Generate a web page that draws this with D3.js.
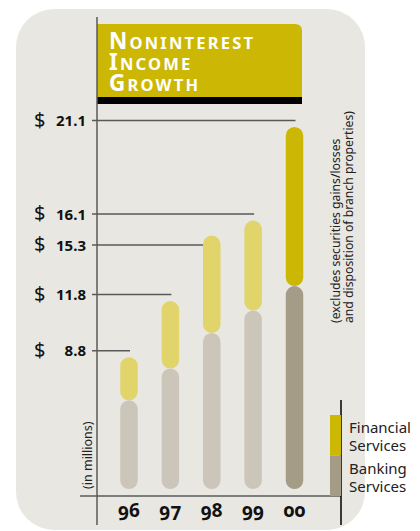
<!DOCTYPE html>
<html>
<head>
<meta charset="utf-8">
<script src="https://cdn.jsdelivr.net/npm/d3@7"></script>
<style>
  html, body { margin: 0; padding: 0; background: #ffffff; }
  svg { display: block; }
</style>
</head>
<body>
<svg id="chart" width="420" height="531"></svg>
<script>
// Noninterest income, $ millions, split by line of business
const years = ["96", "97", "98", "99", "00"];
const bankingServices = [6.5, 8.2, 10.1, 11.3, 12.6];
const financialServices = [2.3, 3.6, 5.2, 4.8, 8.5];
const totals = [8.8, 11.8, 15.3, 16.1, 21.1];
const tickLabels = ["8.8", "11.8", "15.3", "16.1", "21.1"];
const titleLines = ["Noninterest", "Income", "Growth"];
const noteLines = ["(excludes securities gains/losses", "and disposition of branch properties)"];
const legendItems = [
  { key: "financial", lines: ["Financial", "Services"] },
  { key: "banking", lines: ["Banking", "Services"] }
];
const currentYear = "00";

const svg = d3.select("#chart");
const sans = "'Noto Sans', 'Open Sans', sans-serif";

const colors = {
  panel: "#e8e7e2",
  title: "#ccb804",
  finLight: "#e0d46a",
  finDark: "#ccb804",
  bankLight: "#ccc6ba",
  bankDark: "#a59c88",
  axis: "#5a5a5a",
  ink: "#111111"
};

// background panel
svg.append("rect")
  .attr("x", 16).attr("y", 9)
  .attr("width", 349).attr("height", 521)
  .attr("rx", 38).attr("ry", 38)
  .attr("fill", colors.panel);

const axisX = 97;
const axisY = 496;
const floorY = axisY - 7;
const barWidth = 17.5;

const x = d3.scalePoint().domain(years).range([129, 294.5]);
const y = d3.scaleLinear().domain([0, 21.1]).range([522, 127]);

const rows = years.map((yr, i) => ({
  year: yr,
  banking: bankingServices[i],
  financial: financialServices[i],
  total: totals[i],
  label: tickLabels[i]
}));

// leader lines sit just above each bar top; labels that would collide
// are nudged downward so they keep a minimum spacing
const gap = 6.5;
const minSpacing = 31;
const byTop = rows.slice().sort((a, b) => b.total - a.total);
let prev = -Infinity;
byTop.forEach(d => {
  d.ly = Math.max(y(d.total) - gap, prev + minSpacing);
  prev = d.ly;
});

// title block
const titleX = axisX, titleW = 205, titleTop = 24, titleH = 73;
svg.append("path")
  .attr("d", () => {
    const r = 7;
    return `M${titleX},${titleTop} H${titleX + titleW - r} Q${titleX + titleW},${titleTop} ${titleX + titleW},${titleTop + r} V${titleTop + titleH} H${titleX} Z`;
  })
  .attr("fill", colors.title);
svg.append("rect")
  .attr("x", titleX).attr("y", titleTop + titleH)
  .attr("width", titleW).attr("height", 7)
  .attr("fill", "#000");

const titleText = svg.append("g")
  .attr("font-family", sans)
  .attr("font-weight", 700)
  .attr("fill", "#ffffff")
  .attr("letter-spacing", 2.2);
titleLines.forEach((line, i) => {
  const t = titleText.append("text")
    .attr("x", 109)
    .attr("y", 49 + i * 21);
  t.append("tspan").attr("font-size", 22.5).text(line[0].toUpperCase());
  t.append("tspan").attr("font-size", 16.5).text(line.slice(1).toUpperCase());
});

// leader lines from the value labels to each bar
svg.append("g").selectAll("line")
  .data(rows)
  .join("line")
  .attr("x1", 92)
  .attr("x2", d => x(d.year) + 1)
  .attr("y1", d => d.ly)
  .attr("y2", d => d.ly)
  .attr("stroke", colors.axis)
  .attr("stroke-width", 1.5);

// value labels
const labels = svg.append("g")
  .attr("font-family", sans)
  .attr("font-weight", 700)
  .attr("fill", colors.ink);
labels.selectAll("text.dollar")
  .data(rows)
  .join("text")
  .attr("class", "dollar")
  .attr("x", 34)
  .attr("y", d => d.ly + 6)
  .attr("font-size", 20)
  .attr("font-weight", 400)
  .text("$");
labels.selectAll("text.value")
  .data(rows)
  .join("text")
  .attr("class", "value")
  .attr("x", 86)
  .attr("y", d => d.ly + 5.5)
  .attr("text-anchor", "end")
  .attr("font-size", 15)
  .text(d => d.label);

// stacked pill bars
const bars = svg.append("g");
bars.selectAll("rect.bank")
  .data(rows)
  .join("rect")
  .attr("class", "bank")
  .attr("x", d => x(d.year) - barWidth / 2)
  .attr("y", d => y(d.banking))
  .attr("width", barWidth)
  .attr("height", d => floorY - y(d.banking))
  .attr("rx", barWidth / 2)
  .attr("fill", d => d.year === currentYear ? colors.bankDark : colors.bankLight);
bars.selectAll("rect.fin")
  .data(rows)
  .join("rect")
  .attr("class", "fin")
  .attr("x", d => x(d.year) - barWidth / 2)
  .attr("y", d => y(d.total))
  .attr("width", barWidth)
  .attr("height", d => y(d.banking) - y(d.total))
  .attr("rx", barWidth / 2)
  .attr("fill", d => d.year === currentYear ? colors.finDark : colors.finLight);

// axes
svg.append("line")
  .attr("x1", axisX).attr("x2", axisX)
  .attr("y1", 17).attr("y2", 525)
  .attr("stroke", colors.axis).attr("stroke-width", 1.5);
svg.append("line")
  .attr("x1", 80).attr("x2", 341)
  .attr("y1", axisY).attr("y2", axisY)
  .attr("stroke", colors.axis).attr("stroke-width", 1.5);

// year labels
svg.append("g").selectAll("text")
  .data(years)
  .join("text")
  .attr("x", d => x(d))
  .attr("y", 517)
  .attr("text-anchor", "middle")
  .attr("font-family", sans)
  .attr("font-weight", 700)
  .attr("font-size", 19)
  .style("font-variant-numeric", "oldstyle-nums")
  .attr("fill", colors.ink)
  .text(d => d);

// unit note
svg.append("text")
  .attr("transform", "translate(92,489) rotate(-90)")
  .attr("font-family", sans)
  .attr("font-size", 12.5)
  .attr("fill", "#222")
  .text("(in millions)");

// exclusion note
const note = svg.append("text")
  .attr("transform", "translate(340,323) rotate(-90)")
  .attr("font-family", sans)
  .attr("font-size", 12.2)
  .attr("fill", "#222");
noteLines.forEach((line, i) => {
  note.append("tspan").attr("x", 0).attr("dy", i === 0 ? 0 : 12.8).text(line);
});

// legend
svg.append("line")
  .attr("x1", 341).attr("x2", 341)
  .attr("y1", 400).attr("y2", 525)
  .attr("stroke", "#000").attr("stroke-width", 1.5);
const legendColor = { financial: colors.finDark, banking: colors.bankDark };
const legend = svg.append("g");
legendItems.forEach((item, i) => {
  legend.append("rect")
    .attr("x", 330).attr("y", 415 + i * 40.5)
    .attr("width", 11).attr("height", 40.5)
    .attr("fill", legendColor[item.key]);
  item.lines.forEach((ln, j) => {
    legend.append("text")
      .attr("x", 349)
      .attr("y", 433 + i * 41 + j * 18)
      .attr("font-family", sans)
      .attr("font-size", 15)
      .attr("fill", "#222")
      .text(ln);
  });
});
</script>
</body>
</html>
